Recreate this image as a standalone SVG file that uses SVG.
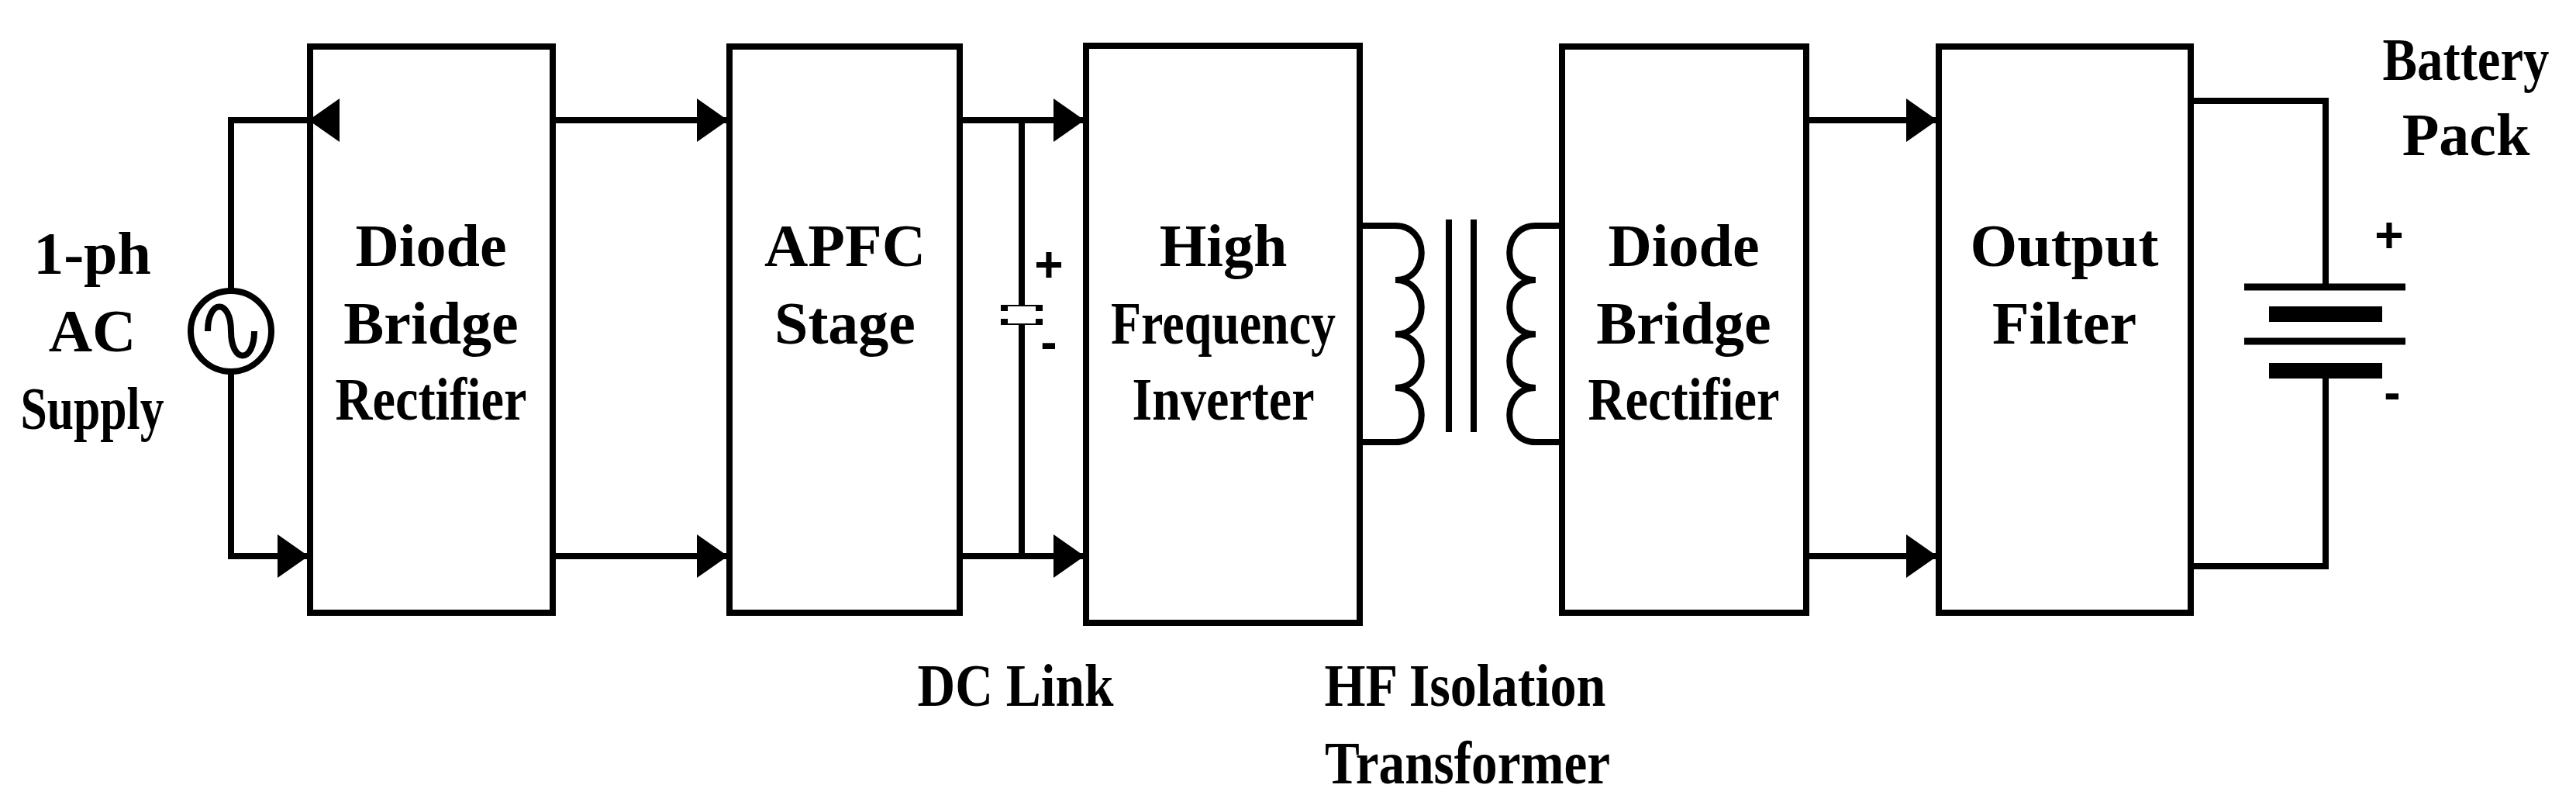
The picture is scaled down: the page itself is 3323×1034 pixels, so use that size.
<svg xmlns="http://www.w3.org/2000/svg" width="3323" height="1034" viewBox="0 0 3323 1034">
<style>
.b{fill:none;stroke:#000;stroke-width:8}
.w{fill:none;stroke:#000;stroke-width:8;stroke-linecap:square}
.t{font-family:"Liberation Serif",serif;font-weight:bold;font-size:78px;text-anchor:middle;fill:#000}
.s{font-family:"Liberation Sans",sans-serif;font-weight:bold;font-size:64px;text-anchor:middle;fill:#000}
</style>
<defs>
<marker id="a" markerUnits="userSpaceOnUse" markerWidth="40" markerHeight="56" refX="40" refY="28" orient="auto"><path d="M0,0 L40,28 L0,56 Z" fill="#000"/></marker>
</defs>
<rect width="3323" height="1034" fill="#fff"/>
<g id="source">
<circle cx="298" cy="427" r="52" class="b"/>
<path d="M268,427 C268,385 298,385 298,427 C298,469 328,469 328,427" class="b"/>
<text class="t" x="119" y="353">1-ph</text>
<text class="t" x="119" y="453">AC</text>
<text class="t" x="119" y="553" textLength="185" lengthAdjust="spacingAndGlyphs">Supply</text>
</g>
<g id="rect1"><rect x="400" y="60" width="313" height="730" class="b"/>
<text class="t" x="556" y="343">Diode</text><text class="t" x="556" y="443">Bridge</text><text class="t" x="556" y="541" textLength="247" lengthAdjust="spacingAndGlyphs">Rectifier</text></g>
<g id="apfc"><rect x="941" y="60" width="297" height="730" class="b"/>
<text class="t" x="1090" y="343">APFC</text><text class="t" x="1090" y="443">Stage</text></g>
<g id="inverter"><rect x="1401" y="59" width="353" height="744" class="b"/>
<text class="t" x="1578" y="343">High</text><text class="t" x="1578" y="443" textLength="290" lengthAdjust="spacingAndGlyphs">Frequency</text><text class="t" x="1578" y="541" textLength="235" lengthAdjust="spacingAndGlyphs">Inverter</text></g>
<g id="rect2"><rect x="2015" y="60" width="315" height="730" class="b"/>
<text class="t" x="2172" y="343">Diode</text><text class="t" x="2172" y="443">Bridge</text><text class="t" x="2172" y="541" textLength="247" lengthAdjust="spacingAndGlyphs">Rectifier</text></g>
<g id="filter"><rect x="2501" y="60" width="325" height="730" class="b"/>
<text class="t" x="2663" y="343">Output</text><text class="t" x="2663" y="443">Filter</text></g>
<g id="dclink">
<line x1="1318" y1="155" x2="1318" y2="717" class="b"/>
<rect x="1291" y="393" width="54" height="8" fill="#000"/>
<rect x="1291" y="411" width="54" height="8" fill="#000"/>
<rect x="1300" y="395" width="36" height="22" fill="#fff"/>
<text class="s" x="1353" y="363">+</text>
<text class="s" x="1353" y="463">-</text>
<text class="t" x="1310" y="910" textLength="253" lengthAdjust="spacingAndGlyphs">DC Link</text>
</g>
<g id="transformer">
<path d="M1754,291 H1800 C1845,291 1845,361 1800,361 C1845,361 1845,431 1800,431 C1845,431 1845,500 1800,500 C1845,500 1845,570 1800,570 H1754" class="b"/>
<line x1="1869" y1="283" x2="1869" y2="557" class="b"/>
<line x1="1901" y1="283" x2="1901" y2="557" class="b"/>
<path d="M2015,291 H1981 C1936,291 1936,361 1981,361 C1936,361 1936,431 1981,431 C1936,431 1936,500 1981,500 C1936,500 1936,570 1981,570 H2015" class="b"/>
<text class="t" x="1890" y="910" textLength="363" lengthAdjust="spacingAndGlyphs">HF Isolation</text>
<text class="t" x="1893" y="1010" textLength="368" lengthAdjust="spacingAndGlyphs">Transformer</text>
</g>
<g id="battery">
<polyline points="2826,130 3000,130 3000,370" class="w"/>
<polyline points="2826,730 3000,730 3000,478" class="w"/>
<line x1="2895" y1="370" x2="3103" y2="370" stroke="#000" stroke-width="9"/>
<line x1="2927" y1="405" x2="3073" y2="405" stroke="#000" stroke-width="20"/>
<line x1="2895" y1="440" x2="3103" y2="440" stroke="#000" stroke-width="9"/>
<line x1="2927" y1="478" x2="3073" y2="478" stroke="#000" stroke-width="20"/>
<text class="s" x="3082" y="325">+</text>
<text class="s" x="3086" y="528">-</text>
<text class="t" x="3181" y="103" textLength="215" lengthAdjust="spacingAndGlyphs">Battery</text>
<text class="t" x="3181" y="200">Pack</text>
</g>
<g id="connectors">
<polyline points="398,155 298,155 298,375" class="w" marker-start="url(#a)" style="stroke-linecap:butt"/>
<polyline points="298,479 298,717 398,717" class="w" marker-end="url(#a)"/>
<line x1="713" y1="155" x2="939" y2="155" class="b" marker-end="url(#a)"/>
<line x1="713" y1="717" x2="939" y2="717" class="b" marker-end="url(#a)"/>
<line x1="1238" y1="155" x2="1399" y2="155" class="b" marker-end="url(#a)"/>
<line x1="1238" y1="717" x2="1399" y2="717" class="b" marker-end="url(#a)"/>
<line x1="2330" y1="155" x2="2499" y2="155" class="b" marker-end="url(#a)"/>
<line x1="2330" y1="717" x2="2499" y2="717" class="b" marker-end="url(#a)"/>
</g>
</svg>
